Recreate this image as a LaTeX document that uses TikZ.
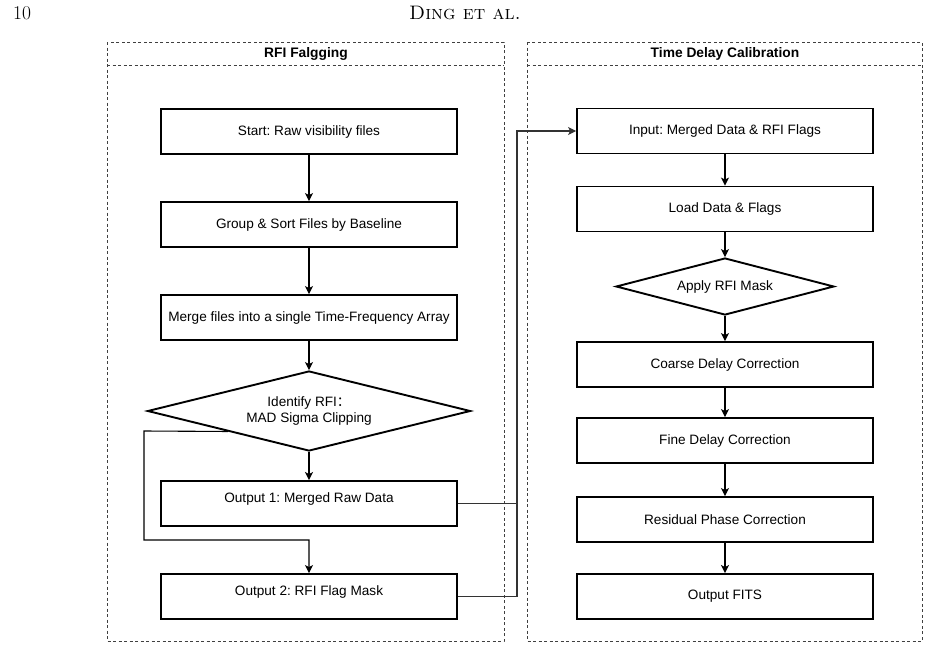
\documentclass[tikz,border=0pt]{standalone}
\usepackage{fontspec}
\newfontfamily\arialf{Liberation Sans}
\newfontfamily\cjkf{Noto Sans CJK SC}
\usetikzlibrary{shapes.geometric,arrows.meta,calc}
\newcommand{\boxfont}{\arialf\fontsize{13.6}{16.5}\selectfont}
\newcommand{\ttlfont}{\arialf\bfseries\fontsize{13.8}{15}\selectfont}
\frenchspacing
\begin{document}
\begin{tikzpicture}[x=1pt,y=-1pt,
  panel/.style={draw=black!75, line width=0.9pt, dash pattern=on 3pt off 2.5pt},
  box/.style={draw=black, line width=1.9pt, minimum width=296pt, minimum height=45pt, inner sep=0pt, font=\boxfont},
  topbox/.style={box, text height=21pt, text depth=24pt},
  dec/.style={draw=black, diamond, line width=1.9pt, inner sep=0pt, align=center, font=\boxfont},
  ttl/.style={font=\ttlfont},
  conn/.style={draw=black, line width=1.1pt},
  tip/.style={-{Stealth[length=8pt,width=8pt,inset=2pt]}},
  flow/.style={conn, tip},
  hdr/.style={font=\fontsize{19.5}{22}\selectfont}
]
\useasboundingbox (0,0) rectangle (930,649);

% page header
\node[hdr, anchor=base west, inner sep=0pt] (pnum) at (13,19) {10};
\node[hdr, anchor=base, inner sep=0pt] (runhead) at (465,19) {\textsc{Ding et al.}};

% panels
\draw[panel] (107,42) rectangle (504,641);
\draw[panel] (107,65) -- (504,65);
\draw[panel] (527,42) rectangle (922,641);
\draw[panel] (527,65) -- (922,65);
\node[ttl] (ltitle) at (306,53.5) {RFI Falgging};
\node[ttl] (rtitle) at (725,53.5) {Time Delay Calibration};

% left column
\node[box] (start) at (309,131.5) {Start: Raw visibility files};
\node[box] (group) at (309,224.5) {Group \& Sort Files by Baseline};
\node[box] (merge) at (309,317.5) {Merge files into a single Time-Frequency Array};
\node[dec, minimum width=323pt, minimum height=80pt, aspect=4] (ident) at (309,411)
  {Identify RFI{\cjkf ：}\\MAD Sigma Clipping};
\node[topbox] (out1) at (309,503.5) {Output 1: Merged Raw Data};
\node[topbox] (out2) at (309,596.5) {Output 2: RFI Flag Mask};

% right column
\node[box] (input) at (725,131) {Input: Merged Data \& RFI Flags};
\node[box] (load) at (725,209) {Load Data \& Flags};
\node[dec, minimum width=218pt, minimum height=57pt, aspect=3.8] (apply) at (725,286.5) {Apply RFI Mask};
\node[box] (coarse) at (725,364.5) {Coarse Delay Correction};
\node[box] (fine) at (725,440.5) {Fine Delay Correction};
\node[box] (resid) at (725,519.5) {Residual Phase Correction};
\node[box] (fits) at (725,596.5) {Output FITS};

% helper coordinates
\coordinate (dl) at ($(ident.west)!0.5!(ident.south)$);
\coordinate (lp1) at (144,431);
\coordinate (lp2) at (144,540);
\coordinate (jn) at (517,131);

% left connectors
\draw[flow] (start) -- (group);
\draw[flow] (group) -- (merge);
\draw[flow] (merge) -- (ident);
\draw[flow, line width=1.9pt] (ident) -- (out1);
\draw[flow] (dl) -- (lp1) -- (lp2) -| (out2.north);

% cross-panel connectors
\draw[conn, draw=black!80, tip] (out1.east) -| (jn) -- (input.west);
\draw[conn, draw=black!80] (out2.east) -| (jn);

% right connectors
\draw[flow] (input) -- (load);
\draw[flow] (load) -- (apply);
\draw[flow] (apply) -- (coarse);
\draw[flow] (coarse) -- (fine);
\draw[flow] (fine) -- (resid);
\draw[flow, line width=1.9pt] (resid) -- (fits);
\end{tikzpicture}
\end{document}
